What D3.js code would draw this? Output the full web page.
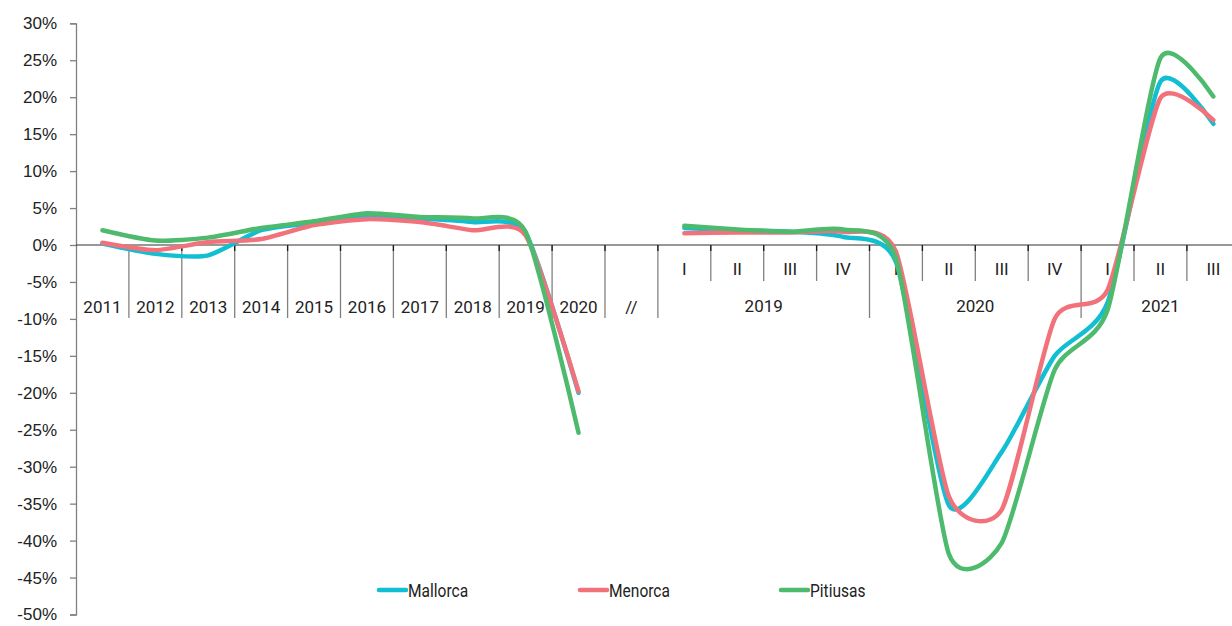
<!DOCTYPE html>
<html>
<head>
<meta charset="utf-8">
<script src="https://cdn.jsdelivr.net/npm/d3@7"></script>
<style>
  html, body { margin: 0; padding: 0; background: #fff; }
  svg { display: block; font-family: Roboto, "Noto Sans", sans-serif; }
</style>
</head>
<body>
<div id="chart"></div>
<script>
// Annual part
const annualYears = ["2011", "2012", "2013", "2014", "2015", "2016", "2017", "2018", "2019", "2020"];
const gapLabel = "//";
// Quarterly part
const quarterYears = ["2019", "2020", "2021"];
const quarterNames = ["I", "II", "III", "IV"];
const quarterCounts = [4, 4, 3];

const seriesNames = ["Mallorca", "Menorca", "Pitiusas"];
const mallorcaAnnual = [0.2, -1.2, -1.4, 2.0, 3.0, 4.0, 3.6, 3.1, 1.6, -20.0];
const menorcaAnnual  = [0.3, -0.7, 0.4, 0.8, 2.7, 3.5, 3.1, 2.0, 1.3, -19.8];
const pitiusasAnnual = [2.0, 0.6, 1.0, 2.3, 3.2, 4.3, 3.8, 3.6, 1.8, -25.4];
const mallorcaQuarter = [2.3, 2.0, 1.8, 1.1, -2.3, -35.2, -28.0, -15.0, -7.8, 22.1, 16.4];
const menorcaQuarter  = [1.6, 1.7, 1.7, 1.8, -0.9, -34.0, -35.8, -10.0, -6.1, 19.9, 16.9];
const pitiusasQuarter = [2.6, 2.1, 1.8, 2.1, -1.8, -41.8, -40.3, -16.9, -8.8, 25.3, 20.1];
const yTicks = [30, 25, 20, 15, 10, 5, 0, -5, -10, -15, -20, -25, -30, -35, -40, -45, -50];

const colors = ["#12bfd2", "#f2727b", "#4dba6e"];

const width = 1232, height = 626;
const margin = { top: 23.3, left: 76, bottom: 11.5 };

// category keys
const quarterKeys = [];
quarterYears.forEach((yr, i) => {
    for (let q = 0; q < quarterCounts[i]; q++) quarterKeys.push({ key: yr + "-" + quarterNames[q], year: yr, q: quarterNames[q], first: q === 0 });
});
const allKeys = [...annualYears, gapLabel, ...quarterKeys.map(d => d.key)];

const svg = d3.select("#chart").append("svg")
    .attr("width", width)
    .attr("height", height);

const bandW = 52.9;
const x = d3.scaleBand()
    .domain(allKeys)
    .range([margin.left, margin.left + bandW * allKeys.length])
    .padding(0);

const y = d3.scaleLinear()
    .domain([-50, 30])
    .range([height - margin.bottom, margin.top]);

// y axis
const yAxis = d3.axisLeft(y)
    .tickValues(yTicks)
    .tickSize(6)
    .tickPadding(13)
    .tickFormat(d => d + "%");

const gy = svg.append("g")
    .attr("transform", `translate(${margin.left},0)`)
    .call(yAxis);
gy.select(".domain").attr("stroke", "#808080").attr("stroke-width", 1.3);
gy.selectAll(".tick line").attr("stroke", "#808080").attr("stroke-width", 1.3);
gy.selectAll("text")
    .style("font-size", "17px")
    .attr("fill", "#222");

// category separators
const y0 = y(0);
const shortLen = 36, longLen = 73;
const bounds = [];
annualYears.forEach((yr, i) => { if (i > 0) bounds.push({ x: x(yr), len: longLen }); });
bounds.push({ x: x(gapLabel), len: longLen });
quarterKeys.forEach(d => bounds.push({ x: x(d.key), len: d.first ? longLen : shortLen }));

svg.append("g").selectAll("line")
    .data(bounds)
    .enter().append("line")
    .attr("x1", d => d.x).attr("x2", d => d.x)
    .attr("y1", y0).attr("y2", d => y0 + d.len)
    .attr("stroke", "#808080")
    .attr("stroke-width", 1.3);

svg.append("g").selectAll("line")
    .data(bounds)
    .enter().append("line")
    .attr("x1", d => d.x).attr("x2", d => d.x)
    .attr("y1", y0).attr("y2", y0 + 6)
    .attr("stroke", "#1a1a1a")
    .attr("stroke-width", 1.3);

// zero line
svg.append("line")
    .attr("x1", margin.left).attr("x2", width)
    .attr("y1", y0).attr("y2", y0)
    .attr("stroke", "#333")
    .attr("stroke-width", 1.2);

// category labels
const labels = svg.append("g")
    .style("font-size", "17px")
    .attr("fill", "#222")
    .attr("text-anchor", "middle");

labels.selectAll(".yr")
    .data([...annualYears, gapLabel])
    .enter().append("text")
    .attr("x", d => x(d) + x.bandwidth() / 2)
    .attr("y", y0 + 68)
    .text(d => d);

labels.selectAll(".q")
    .data(quarterKeys)
    .enter().append("text")
    .attr("x", d => x(d.key) + x.bandwidth() / 2)
    .attr("y", y0 + 30)
    .text(d => d.q);

// year group labels centred on the whole group (last group runs past the edge)
labels.selectAll(".qy")
    .data(quarterYears)
    .enter().append("text")
    .attr("x", yr => {
        const ks = quarterKeys.filter(d => d.year === yr);
        return (x(ks[0].key) + x(ks[ks.length - 1].key) + x.bandwidth()) / 2;
    })
    .attr("y", y0 + 67)
    .text(d => d);

// lines
const line = d3.line()
    .x(d => x(d.key) + x.bandwidth() / 2)
    .y(d => y(d.value))
    .curve(d3.curveCardinal.tension(0.35));

const annualSets = [mallorcaAnnual, menorcaAnnual, pitiusasAnnual];
const quarterSets = [mallorcaQuarter, menorcaQuarter, pitiusasQuarter];

seriesNames.forEach((name, i) => {
    const a = annualYears.map((yr, j) => ({ key: yr, value: annualSets[i][j] }));
    const q = quarterKeys.map((d, j) => ({ key: d.key, value: quarterSets[i][j] }));
    [a, q].forEach(pts => {
        svg.append("path")
            .datum(pts)
            .attr("d", line)
            .attr("fill", "none")
            .attr("stroke", colors[i])
            .attr("stroke-width", 4.5)
            .attr("stroke-linecap", "round")
            .attr("stroke-linejoin", "round");
    });
});

// legend
const legend = svg.append("g")
    .attr("transform", "translate(379,590)");
const item = legend.selectAll("g")
    .data(seriesNames)
    .enter().append("g")
    .attr("transform", (d, i) => `translate(${i * 201},0)`);
item.append("line")
    .attr("x1", 0).attr("x2", 27)
    .attr("stroke", (d, i) => colors[i])
    .attr("stroke-width", 4.5)
    .attr("stroke-linecap", "round");
// narrow legend text
item.append("text")
    .attr("transform", "translate(29,7) scale(0.84,1)")
    .style("font-size", "18.5px")
    .attr("fill", "#222")
    .text(d => d);
</script>
</body>
</html>
